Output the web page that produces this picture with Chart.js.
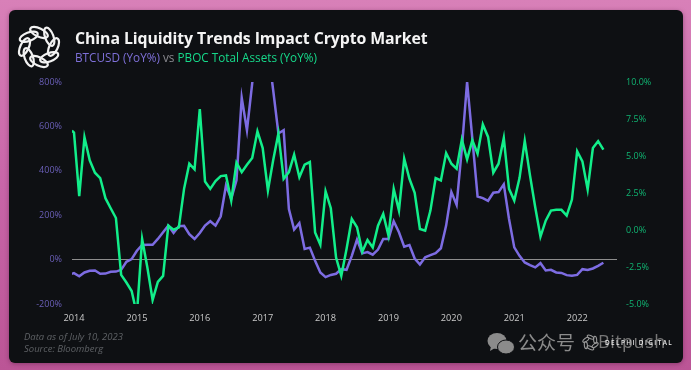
<!DOCTYPE html>
<html><head><meta charset="utf-8">
<style>
html,body{margin:0;padding:0;width:691px;height:370px;overflow:hidden;background:linear-gradient(180deg,#d880b8 0%,#c865a8 50%,#bb5596 100%);}
#card{position:absolute;left:9px;top:10px;width:674px;height:353px;background:#0e1013;border-radius:6px;box-shadow:0 1px 4px rgba(90,30,70,.5);}
#wrap{position:absolute;left:0;top:0;width:691px;height:370px;}
.t{position:absolute;white-space:nowrap;font-family:"Open Sans",sans-serif;}
#title{left:75px;top:27px;font-size:15.85px;font-weight:700;letter-spacing:-.08px;color:#f4f4f4;line-height:22px;}
#sub{left:75px;top:49px;font-size:11.75px;line-height:17px;color:#8a8a90;}
#foot{left:24px;top:331px;font-size:9.5px;line-height:12.4px;font-style:italic;color:#5e6165;}
#cn{left:518px;top:330px;font-size:19px;line-height:24px;color:#8b8b8b;font-family:"Noto Sans CJK SC",sans-serif;}
#bp{left:598px;top:330px;font-size:18px;line-height:23px;color:#777;letter-spacing:.5px;}
#dd{left:605px;top:338px;font-size:6.4px;line-height:9px;letter-spacing:1.4px;color:#e8e8e8;font-weight:600;}
svg{position:absolute;}
</style></head><body>
<div id="card"></div>
<svg style="left:16px;top:24px" width="46" height="46" viewBox="-23 -23 46 46" fill="none" stroke="#f2f2f2" stroke-width="2.2">
<ellipse cx="0" cy="-14.5" rx="9.5" ry="4.2" transform="rotate(0) rotate(25 0 -14.5)"/>
<ellipse cx="0" cy="-14.5" rx="9.5" ry="4.2" transform="rotate(45) rotate(25 0 -14.5)"/>
<ellipse cx="0" cy="-14.5" rx="9.5" ry="4.2" transform="rotate(90) rotate(25 0 -14.5)"/>
<ellipse cx="0" cy="-14.5" rx="9.5" ry="4.2" transform="rotate(135) rotate(25 0 -14.5)"/>
<ellipse cx="0" cy="-14.5" rx="9.5" ry="4.2" transform="rotate(180) rotate(25 0 -14.5)"/>
<ellipse cx="0" cy="-14.5" rx="9.5" ry="4.2" transform="rotate(225) rotate(25 0 -14.5)"/>
<ellipse cx="0" cy="-14.5" rx="9.5" ry="4.2" transform="rotate(270) rotate(25 0 -14.5)"/>
<ellipse cx="0" cy="-14.5" rx="9.5" ry="4.2" transform="rotate(315) rotate(25 0 -14.5)"/>
</svg>
<div id="wrap"><canvas id="c" width="691" height="370"></canvas></div>
<div class="t" id="title">China Liquidity Trends Impact Crypto Market</div>
<div class="t" id="sub"><span style="color:#7e70d8">BTCUSD (YoY%)</span> vs <span style="color:#16d98a">PBOC Total Assets (YoY%)</span></div>
<div class="t" id="foot">Data as of July 10, 2023<br>Source: Bloomberg</div>
<svg style="left:486px;top:332px" width="30" height="24" viewBox="0 0 30 24">
<ellipse cx="11" cy="9" rx="9.5" ry="8" fill="#8b8b8b"/><path d="M5 14l-1 5 5-3z" fill="#8b8b8b"/>
<ellipse cx="20" cy="15" rx="8.5" ry="7" fill="#8b8b8b" stroke="#0e1013" stroke-width="1"/></svg>
<div class="t" id="cn">公众号</div>
<svg style="left:582px;top:334px" width="17" height="17" viewBox="-23 -23 46 46" fill="none" stroke="#999" stroke-width="3">
<ellipse cx="0" cy="-14.5" rx="9.5" ry="4.2" transform="rotate(0) rotate(25 0 -14.5)"/><ellipse cx="0" cy="-14.5" rx="9.5" ry="4.2" transform="rotate(60) rotate(25 0 -14.5)"/><ellipse cx="0" cy="-14.5" rx="9.5" ry="4.2" transform="rotate(120) rotate(25 0 -14.5)"/><ellipse cx="0" cy="-14.5" rx="9.5" ry="4.2" transform="rotate(180) rotate(25 0 -14.5)"/><ellipse cx="0" cy="-14.5" rx="9.5" ry="4.2" transform="rotate(240) rotate(25 0 -14.5)"/><ellipse cx="0" cy="-14.5" rx="9.5" ry="4.2" transform="rotate(300) rotate(25 0 -14.5)"/></svg>
<div class="t" id="bp">Bitpush</div>
<div class="t" id="dd">DELPHI DIGITAL</div>
<script src="https://cdn.jsdelivr.net/npm/chart.js@4/dist/chart.umd.min.js"></script>
<script>
const monthIndex = [-0.4,0,1,2,3,4,5,6,7,8,9,10,11,12,13,14,15,16,17,18,19,20,21,22,23,24,25,26,27,28,29,30,31,32,33,34,35,36,37,38,39,40,41,42,43,44,45,46,47,48,49,50,51,52,53,54,55,56,57,58,59,60,61,62,63,64,65,66,67,68,69,70,71,72,73,74,75,76,77,78,79,80,81,82,83,84,85,86,87,88,89,90,91,92,93,94,95,96,97,98,99,100,101];
const btcYoY = [-64,-61,-75,-58,-50,-49,-64,-63,-55,-54,-46,-10,2,40,66,67,67,93,123,153,120,150,152,115,93,120,153,173,153,195,334,274,357,729,583,794,990,1080,950,764,568,583,228,135,164,48,54,-5,-58,-79,-69,-64,-43,-46,17,90,28,34,22,45,93,93,173,123,58,66,5,-22,10,20,29,51,153,304,247,500,800,545,284,277,265,301,304,339,183,55,17,-13,-25,-35,-16,-49,-46,-58,-60,-70,-73,-69,-43,-47,-40,-28,-14];
const pbocYoY = [6.72,6.58,2.29,6.27,4.71,3.87,3.51,2.15,1.47,0.81,-3.03,-3.55,-4.12,-5.7,-0.61,-2.53,-4.73,-3.51,-3.1,0.29,0.02,0.18,2.78,4.48,4.1,8.17,3.28,2.78,3.3,3.64,3.69,1.99,4.55,3.91,4.41,4.86,6.67,5.54,2.67,4.71,6.52,3.46,3.91,5.09,3.57,4.41,4.59,-0.16,-1,2.62,1.47,-1.86,-3.1,-1.29,0.75,0.18,-1.47,-0.68,-1.18,0.29,1.09,-0.38,2.78,1.31,4.82,3.46,2.51,0.07,-0.05,1.31,3.51,3.35,5.2,4.48,4.14,6.11,4.77,6.06,5.16,7.13,6.29,3.87,4.48,6.22,2.78,1.99,3.51,6.02,3.69,1.54,-0.45,0.63,1.31,1.36,1.36,0.97,2.06,5.32,4.64,2.74,5.54,6,5.43];
const yearTicks = [0,12,24,36,48,60,72,84,96];
const yearLabels = ['2014','2015','2016','2017','2018','2019','2020','2021','2022'];
const pts = ys => monthIndex.map((x,i)=>({x, y:ys[i]}));
const tickFont = {family:'"Open Sans",sans-serif', size:9};
new Chart(document.getElementById('c'),{
  type:'line',
  data:{datasets:[
    {label:'PBOC Total Assets (YoY%)',data:pts(pbocYoY),yAxisID:'yR',borderColor:'#12ee8a',borderWidth:2.5,pointRadius:0,tension:0,order:1},
    {label:'BTCUSD (YoY%)',data:pts(btcYoY),yAxisID:'yL',borderColor:'#7d6ce2',borderWidth:2.5,pointRadius:0,tension:0,order:2}
  ]},
  options:{
    responsive:false,animation:false,
    layout:{padding:{top:82,left:0,right:0,bottom:0}},
    plugins:{legend:{display:false},title:{display:false},tooltip:{enabled:false}},
    scales:{
      x:{type:'linear',min:-0.38,max:103.6,
        afterBuildTicks:a=>{a.ticks=yearTicks.map(v=>({value:v}));},
        afterFit:a=>{a.height=66;},
        grid:{display:false},border:{display:false},
        ticks:{autoSkip:false,maxRotation:0,padding:1,color:'#c9c9c9',font:{family:'"Open Sans",sans-serif',size:9.2},
          callback:v=>yearLabels[yearTicks.indexOf(v)]}},
      yL:{position:'left',min:-200,max:800,
        afterFit:a=>{a.width=72;},
        border:{display:false},
        grid:{drawTicks:false,lineWidth:1,color:c=>c.tick&&c.tick.value===0?'#8d8d8d':'rgba(0,0,0,0)'},
        ticks:{stepSize:200,padding:10,color:'#6a5fb8',font:tickFont,callback:v=>v+'%'}},
      yR:{position:'right',min:-5,max:10,
        afterFit:a=>{a.width=74;},
        border:{display:false},
        grid:{display:false,drawTicks:false},
        ticks:{stepSize:2.5,padding:9,color:'#10b472',font:tickFont,callback:v=>v.toFixed(1)+'%'}}
    }
  }
});
</script>
</body></html>
